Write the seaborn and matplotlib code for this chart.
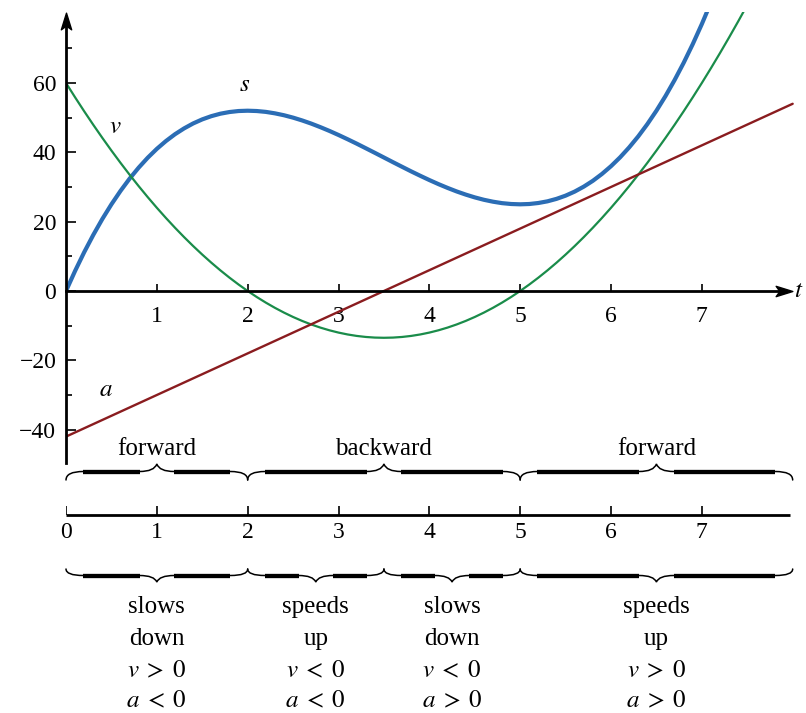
import matplotlib
matplotlib.use("Agg")
import numpy as np
import pandas as pd
import matplotlib.pyplot as plt
from matplotlib.path import Path
from matplotlib.patches import PathPatch
import seaborn as sns

# ── data ────────────────────────────────────────────────────────────────────
t_v = [0.0, 0.1, 0.2, 0.3, 0.4, 0.5, 0.6, 0.7, 0.8, 0.9,
       1.0, 1.1, 1.2, 1.3, 1.4, 1.5, 1.6, 1.7, 1.8, 1.9,
       2.0, 2.1, 2.2, 2.3, 2.4, 2.5, 2.6, 2.7, 2.8, 2.9,
       3.0, 3.1, 3.2, 3.3, 3.4, 3.5, 3.6, 3.7, 3.8, 3.9,
       4.0, 4.1, 4.2, 4.3, 4.4, 4.5, 4.6, 4.7, 4.8, 4.9,
       5.0, 5.1, 5.2, 5.3, 5.4, 5.5, 5.6, 5.7, 5.8, 5.9,
       6.0, 6.1, 6.2, 6.3, 6.4, 6.5, 6.6, 6.7, 6.8, 6.9,
       7.0, 7.1, 7.2, 7.3, 7.4, 7.5]
t_s = t_v[:72]

s_pos = [0.0, 5.79, 11.18, 16.16, 20.77, 25.0, 28.87, 32.40, 35.58, 38.45,
         41.0, 43.25, 45.22, 46.90, 48.33, 49.5, 50.43, 51.14, 51.62, 51.91,
         52.0, 51.91, 51.66, 51.24, 50.69, 50.0, 49.19, 48.28, 47.26, 46.17,
         45.0, 43.77, 42.50, 41.18, 39.85, 38.5, 37.15, 35.82, 34.50, 33.23,
         32.0, 30.83, 29.74, 28.72, 27.81, 27.0, 26.31, 25.76, 25.34, 25.09,
         25.0, 25.09, 25.38, 25.86, 26.57, 27.5, 28.67, 30.10, 31.78, 33.75,
         36.0, 38.55, 41.42, 44.60, 48.13, 52.0, 56.23, 60.84, 65.82, 71.21,
         77.0, 83.21]

v_vel = [60.0, 55.86, 51.84, 47.94, 44.16, 40.5, 36.96, 33.54, 30.24, 27.06,
         24.0, 21.06, 18.24, 15.54, 12.96, 10.5, 8.16, 5.94, 3.84, 1.86,
         0.0, -1.74, -3.36, -4.86, -6.24, -7.5, -8.64, -9.66, -10.56, -11.34,
         -12.0, -12.54, -12.96, -13.26, -13.44, -13.5, -13.44, -13.26, -12.96, -12.54,
         -12.0, -11.34, -10.56, -9.66, -8.64, -7.5, -6.24, -4.86, -3.36, -1.74,
         0.0, 1.86, 3.84, 5.94, 8.16, 10.5, 12.96, 15.54, 18.24, 21.06,
         24.0, 27.06, 30.24, 33.54, 36.96, 40.5, 44.16, 47.94, 51.84, 55.86,
         60.0, 64.26, 68.64, 73.14, 77.76, 82.5]

t_a = [0, 8]
a_acc = [-42, 54]

x_ticks = [1, 2, 3, 4, 5, 6, 7]
y_ticks = [-40, -20, 0, 20, 40, 60]
y_minor = [-30, -10, 10, 30, 50, 70]
line_ticks = [0, 1, 2, 3, 4, 5, 6, 7]

dir_spans = [(0, 2), (2, 5), (5, 8)]
dir_labels = ["forward", "backward", "forward"]

acc_spans = [(0, 2), (2, 3.5), (3.5, 5), (5, 8)]
acc_word1 = ["slows", "speeds", "slows", "speeds"]
acc_word2 = ["down", "up", "down", "up"]
acc_v = ["$v\\;>\\;0$", "$v\\;<\\;0$", "$v\\;<\\;0$", "$v\\;>\\;0$"]
acc_a = ["$a\\;<\\;0$", "$a\\;<\\;0$", "$a\\;>\\;0$", "$a\\;>\\;0$"]

S_COLOR = '#2b6db5'
V_COLOR = '#1a8c4a'
A_COLOR = '#8a1c1f'

sns.set_style("ticks")
plt.rcParams['font.family'] = ['Liberation Serif', 'DejaVu Serif']
plt.rcParams['mathtext.fontset'] = 'stix'
plt.rcParams['text.color'] = 'black'

TXT = 18
TICK = 17

fig = plt.figure(figsize=(8.06, 7.13), dpi=100)
XMAX = 8.05
ax = fig.add_axes([0.0819, 0.3512, 0.9072, 0.6321])

sns.lineplot(x=t_s, y=s_pos, ax=ax, color=S_COLOR, linewidth=3.0, sort=False)
sns.lineplot(x=t_v, y=v_vel, ax=ax, color=V_COLOR, linewidth=1.6, sort=False)
sns.lineplot(x=t_a, y=a_acc, ax=ax, color=A_COLOR, linewidth=1.7, sort=False)

ax.set_xlim(0, XMAX)
ax.set_ylim(-49.5, 80.5)
for side in ['top', 'right']:
    ax.spines[side].set_visible(False)
for side in ['left', 'bottom']:
    ax.spines[side].set_position(('data', 0))
    ax.spines[side].set_color('black')
    ax.spines[side].set_linewidth(2.0)
ax.spines['bottom'].set_bounds(0, 7.9)
ax.spines['left'].set_bounds(-49.5, 78.0)

# stealth arrowheads
head = Path([(-1, -0.62), (1, 0), (-1, 0.62), (-0.55, 0), (-1, -0.62)],
            [Path.MOVETO, Path.LINETO, Path.LINETO, Path.LINETO, Path.CLOSEPOLY])
head_up = Path([(0.62, -1), (0, 1), (-0.62, -1), (0, -0.55), (0.62, -1)],
               [Path.MOVETO, Path.LINETO, Path.LINETO, Path.LINETO, Path.CLOSEPOLY])
ax.plot(7.9, 0, marker=head, color='k', markersize=12, clip_on=False)
ax.plot(0, 78.0, marker=head_up, color='k', markersize=12, clip_on=False)

ax.set_xticks(x_ticks)
ax.set_yticks(y_ticks)
ax.set_yticks(y_minor, minor=True)
ax.set_yticklabels([str(v).replace('-', '\u2212') for v in y_ticks])
ax.tick_params(axis='x', direction='in', length=5, width=1.2, pad=11,
               labelsize=TICK, colors='black')
ax.tick_params(axis='y', which='major', direction='in', length=7, width=1.2,
               pad=7, labelsize=TICK, colors='black')
ax.tick_params(axis='y', which='minor', direction='in', length=4, width=1.2,
               colors='black')
ax.set_xlabel('')
ax.set_ylabel('')

ax.text(1.97, 59.4, '$s$', fontsize=TXT, ha='center', va='center')
ax.text(0.54, 47.3, '$v$', fontsize=TXT, ha='center', va='center')
ax.text(0.44, -28.6, '$a$', fontsize=TXT, ha='center', va='center')
ax.text(8.07, 0, '$t$', fontsize=TXT, ha='center', va='center', clip_on=False)

# ── lower panel: number line with braces (y in pixel-like units) ─────────────
ax2 = fig.add_axes([0.0819, 0.0, 0.9072, 283 / 713])
ax2.set_xlim(0, XMAX)
ax2.set_ylim(713, 430)
ax2.axis('off')


def brace(axis, x0, x1, y_end, y_flat, y_tip, r=0.19):
    xm = (x0 + x1) / 2
    verts = [(x0, y_end), (x0, y_flat), (x0 + r, y_flat),
             (xm - r, y_flat), (xm - 0.15 * r, y_flat), (xm, y_tip),
             (xm + 0.15 * r, y_flat), (xm + r, y_flat),
             (x1 - r, y_flat), (x1, y_flat), (x1, y_end)]
    codes = [Path.MOVETO, Path.CURVE3, Path.CURVE3,
             Path.LINETO, Path.CURVE3, Path.CURVE3,
             Path.CURVE3, Path.CURVE3,
             Path.LINETO, Path.CURVE3, Path.CURVE3]
    axis.add_patch(PathPatch(Path(verts, codes), fill=False, lw=1.1,
                             edgecolor='k', capstyle='round', clip_on=False))
    axis.plot([x0 + r, xm - r], [y_flat, y_flat], color='k', lw=3.1,
              solid_capstyle='butt', clip_on=False)
    axis.plot([xm + r, x1 - r], [y_flat, y_flat], color='k', lw=3.1,
              solid_capstyle='butt', clip_on=False)


for (x0, x1), lab in zip(dir_spans, dir_labels):
    brace(ax2, x0, x1, 480, 471.5, 464)
    ax2.text((x0 + x1) / 2, 455, lab, fontsize=TXT, ha='center', va='baseline')

ax2.plot([0, 7.97], [515, 515], color='k', lw=2.0, solid_capstyle='butt')
ax2.vlines(line_ticks, 506, 515, color='k', lw=1.2)
for v in line_ticks:
    ax2.text(v, 533, str(v), fontsize=TICK, ha='center', va='center')

for (x0, x1), w1, w2, lv, la in zip(acc_spans, acc_word1, acc_word2, acc_v, acc_a):
    xm = (x0 + x1) / 2
    brace(ax2, x0, x1, 569, 575.5, 582)
    ax2.text(xm, 613, w1, fontsize=TXT, ha='center', va='baseline')
    ax2.text(xm, 645, w2, fontsize=TXT, ha='center', va='baseline')
    ax2.text(xm, 677, lv, fontsize=TXT, ha='center', va='baseline')
    ax2.text(xm, 707, la, fontsize=TXT, ha='center', va='baseline')

fig.savefig('out.png', dpi=100)
